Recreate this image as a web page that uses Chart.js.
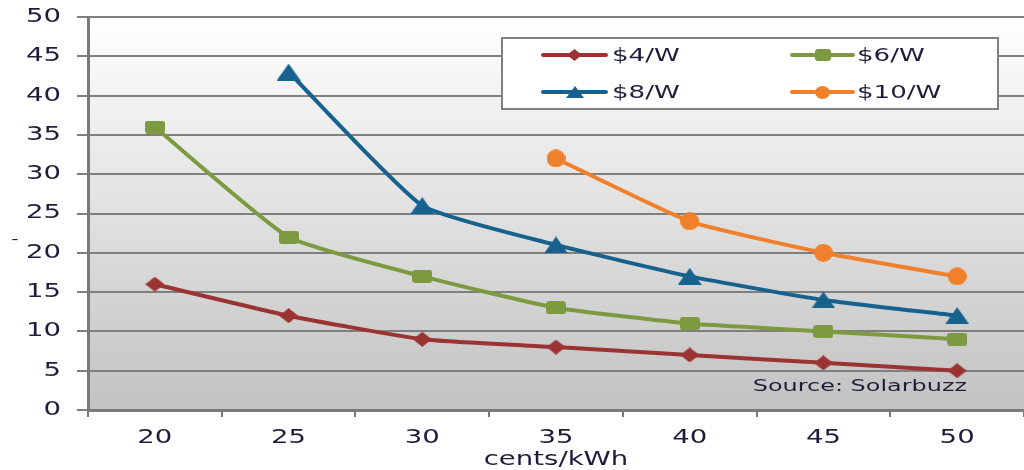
<!DOCTYPE html>
<html>
<head>
<meta charset="utf-8">
<script src="https://cdn.jsdelivr.net/npm/chart.js@4/dist/chart.umd.min.js"></script>
<style>
  html, body { margin: 0; padding: 0; background: #ffffff; }
  #c { display: block; }
</style>
</head>
<body>
<canvas id="c" width="1024" height="470"></canvas>
<script>
// Payback period by electricity price, one series per installed cost
const categories = ['20', '25', '30', '35', '40', '45', '50'];
const cost4 = [16, 12, 9, 8, 7, 6, 5];
const cost6 = [36, 22, 17, 13, 11, 10, 9];
const cost8 = [null, 43, 26, 21, 17, 14, 12];
const cost10 = [null, null, null, 32, 24, 20, 17];
const seriesNames = ['$4/W', '$6/W', '$8/W', '$10/W'];
const xTitle = 'cents/kWh';
const sourceNote = 'Source: Solarbuzz';

const FONT = '"DejaVu Sans", Verdana, sans-serif';
const INK = '#1e1e3c';
const RED = '#9b3333', GREEN = '#7d9a40', BLUE = '#17618f', ORANGE = '#f0802c';

const canvas = document.getElementById('c');
const ctx2d = canvas.getContext('2d');

// Broad lettering: every label is drawn horizontally widened
const WIDEN = 1.45;
const nativeFill = CanvasRenderingContext2D.prototype.fillText;
const nativeMeasure = CanvasRenderingContext2D.prototype.measureText;
ctx2d.fillText = function (text, x, y) {
  this.save();
  this.translate(x, y);
  this.scale(WIDEN, 1);
  nativeFill.call(this, text, 0, 0);
  this.restore();
};
ctx2d.measureText = function (text) {
  const m = nativeMeasure.call(this, text);
  return {
    width: m.width * WIDEN,
    actualBoundingBoxAscent: m.actualBoundingBoxAscent,
    actualBoundingBoxDescent: m.actualBoundingBoxDescent,
    actualBoundingBoxLeft: m.actualBoundingBoxLeft * WIDEN,
    actualBoundingBoxRight: m.actualBoundingBoxRight * WIDEN
  };
};

// Marker sprites (slightly wider than tall)
function sprite(shape, w, h, color) {
  const c = document.createElement('canvas');
  c.width = w; c.height = h;
  const g = c.getContext('2d');
  g.fillStyle = color;
  g.beginPath();
  if (shape === 'diamond') {
    g.moveTo(w / 2, 0); g.lineTo(w, h / 2); g.lineTo(w / 2, h); g.lineTo(0, h / 2);
  } else if (shape === 'square') {
    const r = 3;
    g.moveTo(r, 0); g.lineTo(w - r, 0); g.quadraticCurveTo(w, 0, w, r);
    g.lineTo(w, h - r); g.quadraticCurveTo(w, h, w - r, h);
    g.lineTo(r, h); g.quadraticCurveTo(0, h, 0, h - r);
    g.lineTo(0, r); g.quadraticCurveTo(0, 0, r, 0);
  } else if (shape === 'triangle') {
    g.moveTo(w / 2, 0); g.lineTo(w, h); g.lineTo(0, h);
  } else {
    g.ellipse(w / 2, h / 2, w / 2, h / 2, 0, 0, Math.PI * 2);
  }
  g.closePath();
  g.fill();
  return c;
}
const shapes = ['diamond', 'square', 'triangle', 'circle'];
const colors = [RED, GREEN, BLUE, ORANGE];
const plotSizes = [[19, 15], [20, 13], [24, 17], [19, 18]];
const keySizes = [[15, 12], [16, 12], [18, 12], [15, 13]];
const markers = shapes.map((s, i) => sprite(s, plotSizes[i][0], plotSizes[i][1], colors[i]));
const keyMarkers = shapes.map((s, i) => sprite(s, keySizes[i][0], keySizes[i][1], colors[i]));
const values = [cost4, cost6, cost8, cost10];

const datasets = values.map((v, i) => ({
  label: seriesNames[i],
  data: v,
  borderColor: colors[i],
  backgroundColor: colors[i],
  borderWidth: 4,
  tension: 0.15,
  pointStyle: markers[i],
  pointRadius: 9,
  pointHoverRadius: 9,
  spanGaps: false,
  clip: false
}));

// Plot area shading: white at the top fading to grey at the bottom
const plotBackground = {
  id: 'plotBackground',
  beforeDraw(chart) {
    const { ctx, chartArea: a } = chart;
    ctx.save();
    ctx.fillStyle = '#ffffff';
    ctx.fillRect(0, 0, chart.width, chart.height);
    const g = ctx.createLinearGradient(0, a.top, 0, a.bottom);
    g.addColorStop(0, '#ffffff');
    g.addColorStop(1, '#c2c2c2');
    ctx.fillStyle = g;
    ctx.fillRect(a.left, a.top, a.right - a.left, a.bottom - a.top);
    ctx.restore();
  }
};

// Boxed two-column legend, source note and the small y-axis caption
const overlay = {
  id: 'overlay',
  afterDraw(chart) {
    const { ctx } = chart;
    ctx.save();
    ctx.fillStyle = '#ffffff';
    ctx.fillRect(502, 38, 496, 71);
    ctx.strokeStyle = '#808080';
    ctx.lineWidth = 2;
    ctx.strokeRect(502, 38, 496, 71);
    const slots = [
      { x1: 543, x2: 606, tx: 612, y: 55 },
      { x1: 792, x2: 853, tx: 857, y: 55 },
      { x1: 543, x2: 606, tx: 612, y: 92 },
      { x1: 792, x2: 853, tx: 857, y: 92 }
    ];
    ctx.font = '18px ' + FONT;
    ctx.textAlign = 'left';
    ctx.textBaseline = 'middle';
    chart.data.datasets.forEach((ds, i) => {
      const s = slots[i];
      ctx.strokeStyle = ds.borderColor;
      ctx.lineWidth = 4;
      ctx.lineCap = 'round';
      ctx.beginPath();
      ctx.moveTo(s.x1, s.y);
      ctx.lineTo(s.x2, s.y);
      ctx.stroke();
      const m = keyMarkers[i];
      ctx.drawImage(m, Math.round((s.x1 + s.x2) / 2 - m.width / 2), Math.round(s.y - m.height / 2));
      ctx.fillStyle = INK;
      ctx.fillText(ds.label, s.tx, s.y + 1);
    });
    ctx.font = '16.5px ' + FONT;
    ctx.textAlign = 'right';
    ctx.fillStyle = INK;
    ctx.fillText(sourceNote, 967, 387);
    ctx.font = '14px ' + FONT;
    ctx.textAlign = 'center';
    ctx.fillText('-', 15, 240);
    ctx.restore();
  }
};

new Chart(ctx2d, {
  type: 'line',
  data: { labels: categories, datasets },
  plugins: [plotBackground, overlay],
  options: {
    responsive: false,
    animation: false,
    events: [],
    layout: { autoPadding: false, padding: { top: 17, right: 0, bottom: 0, left: 0 } },
    plugins: {
      legend: { display: false },
      tooltip: { enabled: false }
    },
    scales: {
      x: {
        offset: true,
        grid: {
          offset: true,
          drawOnChartArea: false,
          drawTicks: true,
          tickLength: 7,
          color: '#7a7a7a',
          lineWidth: 2
        },
        border: { color: '#7a7a7a', width: 3 },
        ticks: {
          font: { family: FONT, size: 19 },
          color: INK,
          padding: 10,
          maxRotation: 0,
          autoSkip: false
        },
        title: {
          display: true,
          text: xTitle,
          font: { family: FONT, size: 19, lineHeight: 1 },
          color: INK,
          padding: { top: 0, bottom: 0 }
        },
        afterFit(scale) {
          scale.height = 60;
          scale.paddingLeft = 0;
          scale.paddingRight = 0;
        }
      },
      y: {
        min: 0,
        max: 50,
        ticks: {
          stepSize: 5,
          font: { family: FONT, size: 19 },
          color: INK,
          padding: 16
        },
        grid: {
          color: '#7f7f7f',
          lineWidth: 2,
          tickLength: 11
        },
        border: { color: '#7a7a7a', width: 3 },
        afterFit(scale) {
          scale.width = 88;
          scale.paddingTop = 0;
          scale.paddingBottom = 0;
        }
      }
    }
  }
});
</script>
</body>
</html>
